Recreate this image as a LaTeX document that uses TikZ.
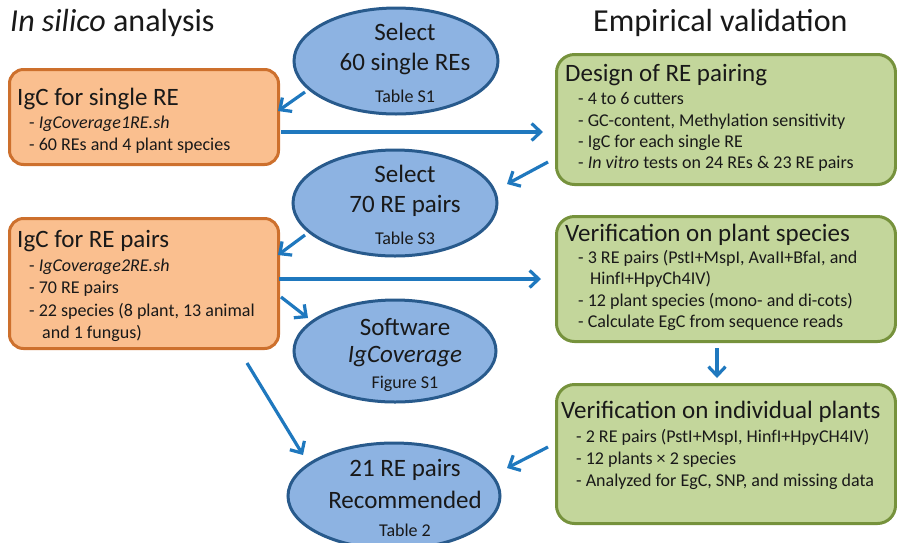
\documentclass[tikz,border=0pt]{standalone}
\usepackage{fontspec}
\setmainfont{Carlito}
\usetikzlibrary{arrows.meta,shapes.geometric,calc}
\definecolor{arrowblue}{RGB}{31,120,190}
\definecolor{ellfill}{RGB}{141,179,226}
\definecolor{elldraw}{RGB}{40,90,140}
\definecolor{orfill}{RGB}{250,191,143}
\definecolor{ordraw}{RGB}{205,112,45}
\definecolor{grfill}{RGB}{195,214,155}
\definecolor{grdraw}{RGB}{118,146,60}
\definecolor{txt}{RGB}{25,25,25}
\newcommand\ftitle{\fontsize{32}{38}\selectfont}
\newcommand\fhead{\fontsize{25}{30}\selectfont}
\newcommand\fbul{\fontsize{18}{22}\selectfont}
\newcommand\fell{\fontsize{25}{30}\selectfont}
\newcommand\fsml{\fontsize{18}{21}\selectfont}
\tikzset{
  obox/.style={draw=ordraw, fill=orfill, line width=3pt, rounded corners=14pt},
  gbox/.style={draw=grdraw, fill=grfill, line width=3pt, rounded corners=18pt},
  ell/.style={draw=elldraw, fill=ellfill, line width=3pt, ellipse, inner sep=0pt},
  lbl/.style={anchor=base west, inner sep=0pt, text=txt},
  clbl/.style={anchor=base, inner sep=0pt, text=txt},
  arr/.style={draw=arrowblue, line width=3.2pt, -{Straight Barb[length=9pt,width=17pt]}}
}
\begin{document}
\begin{tikzpicture}[x=1pt,y=-1pt]
\useasboundingbox (0,0) rectangle (897,542);
% titles
\node[lbl] (t1) at (10,31) {\ftitle\textit{In silico} analysis};
\node[lbl] (t2) at (593,31) {\ftitle Empirical validation};
% orange boxes
\node[obox, anchor=north west, minimum width=269pt, minimum height=95pt] (o1) at (8,68) {};
\node[obox, anchor=north west, minimum width=269pt, minimum height=130pt] (o2) at (8,217) {};
\node[lbl] (o1a) at (17,105) {\fhead IgC for single RE};
\node[lbl] (o1b) at (29,128) {\fbul - \textit{IgCoverage1RE.sh}};
\node[lbl] (o1c) at (29,150) {\fbul - 60 REs and 4 plant species};
\node[lbl] (o2a) at (17,247) {\fhead IgC for RE pairs};
\node[lbl] (o2b) at (29,271) {\fbul - \textit{IgCoverage2RE.sh}};
\node[lbl] (o2c) at (29,293) {\fbul - 70 RE pairs};
\node[lbl] (o2d) at (29,316) {\fbul - 22 species (8 plant, 13 animal};
\node[lbl] (o2e) at (42,338) {\fbul and 1 fungus)};
% green boxes
\node[gbox, anchor=north west, minimum width=339pt, minimum height=130pt] (g1) at (555,53) {};
\node[gbox, anchor=north west, minimum width=339pt, minimum height=125pt] (g2) at (555,215) {};
\node[gbox, anchor=north west, minimum width=339pt, minimum height=139pt] (g3) at (555,383) {};
\node[lbl] (g1a) at (565,81) {\fhead Design of RE pairing};
\node[lbl] (g1b) at (578,104) {\fbul - 4 to 6 cutters};
\node[lbl] (g1c) at (578,126) {\fbul - GC-content, Methylation sensitivity};
\node[lbl] (g1d) at (578,147) {\fbul - IgC for each single RE};
\node[lbl] (g1e) at (578,168) {\fbul - \textit{In vitro} tests on 24 REs \& 23 RE pairs};
\node[lbl] (g2a) at (565,241) {\fhead Verification on plant species};
\node[lbl] (g2b) at (578,263) {\fbul - 3 RE pairs (PstI+MspI, AvaII+BfaI, and};
\node[lbl] (g2c) at (590,284) {\fbul HinfI+HpyCh4IV)};
\node[lbl] (g2d) at (578,306) {\fbul - 12 plant species (mono- and di-cots)};
\node[lbl] (g2e) at (578,327) {\fbul - Calculate EgC from sequence reads};
\node[lbl] (g3a) at (561,418) {\fhead Verification on individual plants};
\node[lbl] (g3b) at (576,442) {\fbul - 2 RE pairs (PstI+MspI, HinfI+HpyCH4IV)};
\node[lbl] (g3c) at (576,464) {\fbul - 12 plants × 2 species};
\node[lbl] (g3d) at (576,486) {\fbul - Analyzed for EgC, SNP, and missing data};
% ellipses
\node[ell, minimum width=204pt, minimum height=106pt] (e1) at (396,61) {};
\node[ell, minimum width=204pt, minimum height=106pt] (e2) at (395,203) {};
\node[ell, minimum width=202pt, minimum height=102pt] (e3) at (395,351) {};
\node[ell, minimum width=212pt, minimum height=106pt] (e4) at (394,496) {};
\node[clbl] (e1a) at (405,40) {\fell Select};
\node[clbl] (e1b) at (405,70) {\fell 60 single REs};
\node[clbl] (e1c) at (405,102) {\fsml Table S1};
\node[clbl] (e2a) at (405,182) {\fell Select};
\node[clbl] (e2b) at (405,212) {\fell 70 RE pairs};
\node[clbl] (e2c) at (405,244) {\fsml Table S3};
\node[clbl] (e3a) at (405,335) {\fell Software};
\node[clbl] (e3b) at (405,362) {\fell\textit{IgCoverage}};
\node[clbl] (e3c) at (405,388) {\fsml Figure S1};
\node[clbl] (e4a) at (405,476) {\fell 21 RE pairs};
\node[clbl] (e4b) at (405,508) {\fell Recommended};
\node[clbl] (e4c) at (405,536) {\fsml Table 2};
% arrow end points
\coordinate (a1s) at (305,92);  \coordinate (a1e) at (278,111);
\coordinate (a2s) at (281,132); \coordinate (a2e) at (543,132);
\coordinate (a3s) at (548,162); \coordinate (a3e) at (507,184);
\coordinate (a4s) at (305,235); \coordinate (a4e) at (278,255);
\coordinate (a5s) at (279,279); \coordinate (a5e) at (541,279);
\coordinate (a6s) at (281,297); \coordinate (a6e) at (308,318);
\coordinate (a7s) at (247,363); \coordinate (a7e) at (303,455);
\coordinate (a8s) at (717,348); \coordinate (a8e) at (717,378);
\coordinate (a9s) at (548,447); \coordinate (a9e) at (507,468);
\draw[arr] (a1s) -- (a1e);
\draw[arr] (a2s) -- (a2e);
\draw[arr] (a3s) -- (a3e);
\draw[arr] (a4s) -- (a4e);
\draw[arr] (a5s) -- (a5e);
\draw[arr] (a6s) -- (a6e);
\draw[arr] (a7s) -- (a7e);
\draw[arr] (a8s) -- (a8e);
\draw[arr] (a9s) -- (a9e);
\end{tikzpicture}
\end{document}
